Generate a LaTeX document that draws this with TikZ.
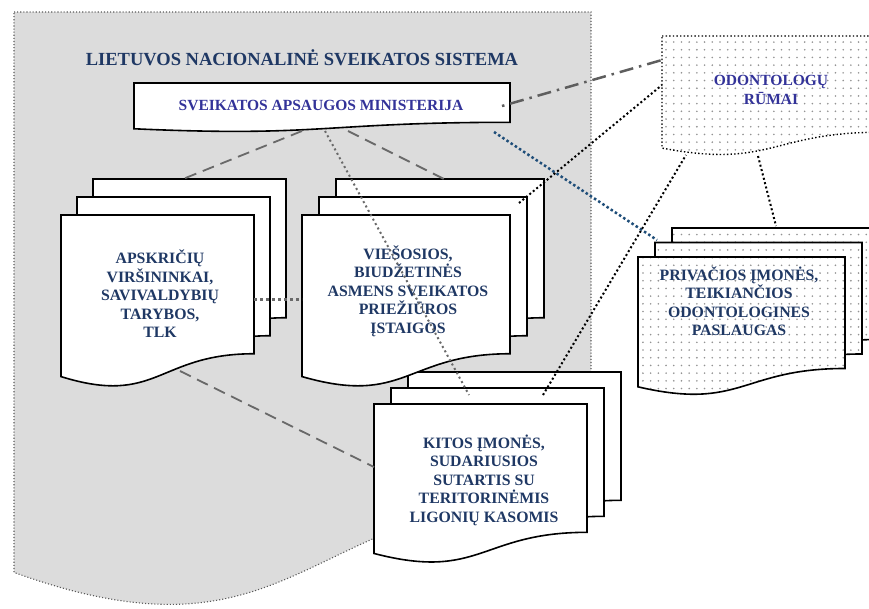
\documentclass[tikz,border=0pt]{standalone}
\usepackage{fontspec}
\setmainfont{Liberation Serif}
\usepackage{tikz}
\usetikzlibrary{calc}
\usetikzlibrary{patterns.meta}
\definecolor{sysgray}{RGB}{220,220,220}
\definecolor{navytxt}{RGB}{31,56,100}
\definecolor{violettxt}{RGB}{51,51,153}
\definecolor{linkblue}{RGB}{31,78,121}
\definecolor{linkgray}{RGB}{105,105,105}
\tikzdeclarepattern{
  name=sparsedots,
  type=uncolored,
  bottom left={(-.1pt,-.1pt)},
  top right={(7.8pt,7.8pt)},
  tile size={(7.7pt,7.7pt)},
  code={\fill (3.85pt,3.85pt) circle [radius=0.9pt];}
}
% one sheet: style, x, y, width, height (document outline)
\newcommand*\docsheet[5]{
  \draw [#1] ({#2},{#3}) -- ({#2+#4},{#3}) -- ({#2+#4},{#3+0.802*#5})
    .. controls ({#2+0.5*#4},{#3+0.802*#5}) and ({#2+0.5*#4},{#3+1.1075*#5}) ..
    ({#2},{#3+0.934*#5}) -- cycle;}
% three sheets: style, x, y, width, height, dx, dy
\newcommand*\docstack[7]{
  \docsheet{#1}{#2+2*#6}{#3-2*#7}{#4}{#5}
  \docsheet{#1}{#2+#6}{#3-#7}{#4}{#5}
  \docsheet{#1}{#2}{#3}{#4}{#5}}
\tikzset{
  sheet/.style={draw=black,line width=1.6pt,fill=white},
  dotsheet/.style={draw=black,line width=1.6pt,preaction={fill=white},
    pattern=sparsedots,pattern color=gray!85},
  stacktext/.style={align=center,text=navytxt,
    font=\bfseries\fontsize{15.8}{18.5}\selectfont},
  graydash/.style={draw=linkgray,line width=1.8pt,dash pattern=on 12pt off 7pt},
  graydot/.style={draw=linkgray,line width=2pt,dash pattern=on 2pt off 3pt},
  blackdot/.style={draw=black,line width=2pt,dash pattern=on 2pt off 2.5pt},
}

\begin{document}
\begin{tikzpicture}[x=1pt,y=-1pt]
\useasboundingbox (0,0) rectangle (869,608);
% system
\docsheet{fill=sysgray,draw=gray!70!black,line width=1.1pt,dotted}{14}{12}{577}{600}
\node [align=center,text=navytxt,font=\bfseries\fontsize{18.5}{22}\selectfont]
  (title) at (302,58) {LIETUVOS NACIONALINĖ SVEIKATOS SISTEMA};
% other companies
\docstack{sheet}{374}{404}{213}{160}{17}{16}
\node [stacktext] (kitos) at (484,480)
  {KITOS ĮMONĖS,\\SUDARIUSIOS\\SUTARTIS SU\\TERITORINĖMIS\\LIGONIŲ KASOMIS};
% counties
\docstack{sheet}{61}{215}{193}{173}{16}{18}
\node [stacktext] (apsk) at (160,294)
  {APSKRIČIŲ\\VIRŠININKAI,\\SAVIVALDYBIŲ\\TARYBOS,\\TLK};
% public institutions
\docstack{sheet}{302}{215}{208}{173}{17}{18}
\node [stacktext] (vies) at (408,291)
  {VIEŠOSIOS,\\BIUDŽETINĖS\\ASMENS SVEIKATOS\\PRIEŽIŪROS\\ĮSTAIGOS};
% ministry
\docsheet{sheet}{134}{83}{376}{49}
\node [text=violettxt,font=\bfseries\fontsize{15.5}{18.5}\selectfont]
  (sam) at (321,105) {SVEIKATOS APSAUGOS MINISTERIJA};
% private companies
\docstack{dotsheet}{638}{257}{207}{139}{17}{14.5}
\node [stacktext] (priv) at (739,301)
  {PRIVAČIOS ĮMONĖS,\\TEIKIANČIOS\\ODONTOLOGINES\\PASLAUGAS};
% chamber
\docsheet{dotsheet,line width=1.4pt,dash pattern=on 1.4pt off 2.2pt}{662}{36}{218}{120}
\node [align=center,text=violettxt,font=\bfseries\fontsize{15.5}{19}\selectfont]
  (odont) at (771,90) {ODONTOLOGŲ\\RŪMAI};
%
\coordinate (sam-sw) at (302,131);
\coordinate (sam-s) at (325,131);
\coordinate (sam-se) at (348,131);
\coordinate (sam-e) at (502,106);
\coordinate (sam-blue) at (494,132);
\coordinate (apsk-n) at (183,179);
\coordinate (apsk-e) at (254,299);
\coordinate (apsk-s) at (180,371);
\coordinate (vies-n) at (444,179);
\coordinate (vies-w) at (302,299);
\coordinate (vies-ne) at (519,203);
\coordinate (kitos-n) at (469,395);
\coordinate (kitos-ne) at (543,395);
\coordinate (kitos-w) at (374,467);
\coordinate (odont-w) at (662,60);
\coordinate (odont-w2) at (662,85);
\coordinate (odont-s1) at (686,155);
\coordinate (odont-s2) at (758,156);
\coordinate (priv-nw) at (657,240);
\coordinate (priv-n) at (776,226);
% links
\draw [graydash] (sam-sw) -- (apsk-n);
\draw [graydash] (sam-se) -- (vies-n);
\draw [graydash] (apsk-s) -- (kitos-w);
\draw [graydot] (sam-s) -- (kitos-n);
\draw [draw=linkgray,line width=3pt,dash pattern=on 3pt off 3pt] (apsk-e) -- (vies-w);
\draw [draw=linkgray!90!black,line width=2.5pt,dash pattern=on 2.5pt off 6pt on 14pt off 6pt]
  (sam-e) -- (odont-w);
\draw [draw=linkblue,line width=2.5pt,dash pattern=on 2.5pt off 2.5pt] (sam-blue) -- (priv-nw);
\draw [blackdot] (vies-ne) -- (odont-w2);
\draw [blackdot] (kitos-ne) -- (odont-s1);
\draw [blackdot] (odont-s2) -- (priv-n);
\end{tikzpicture}
\end{document}
